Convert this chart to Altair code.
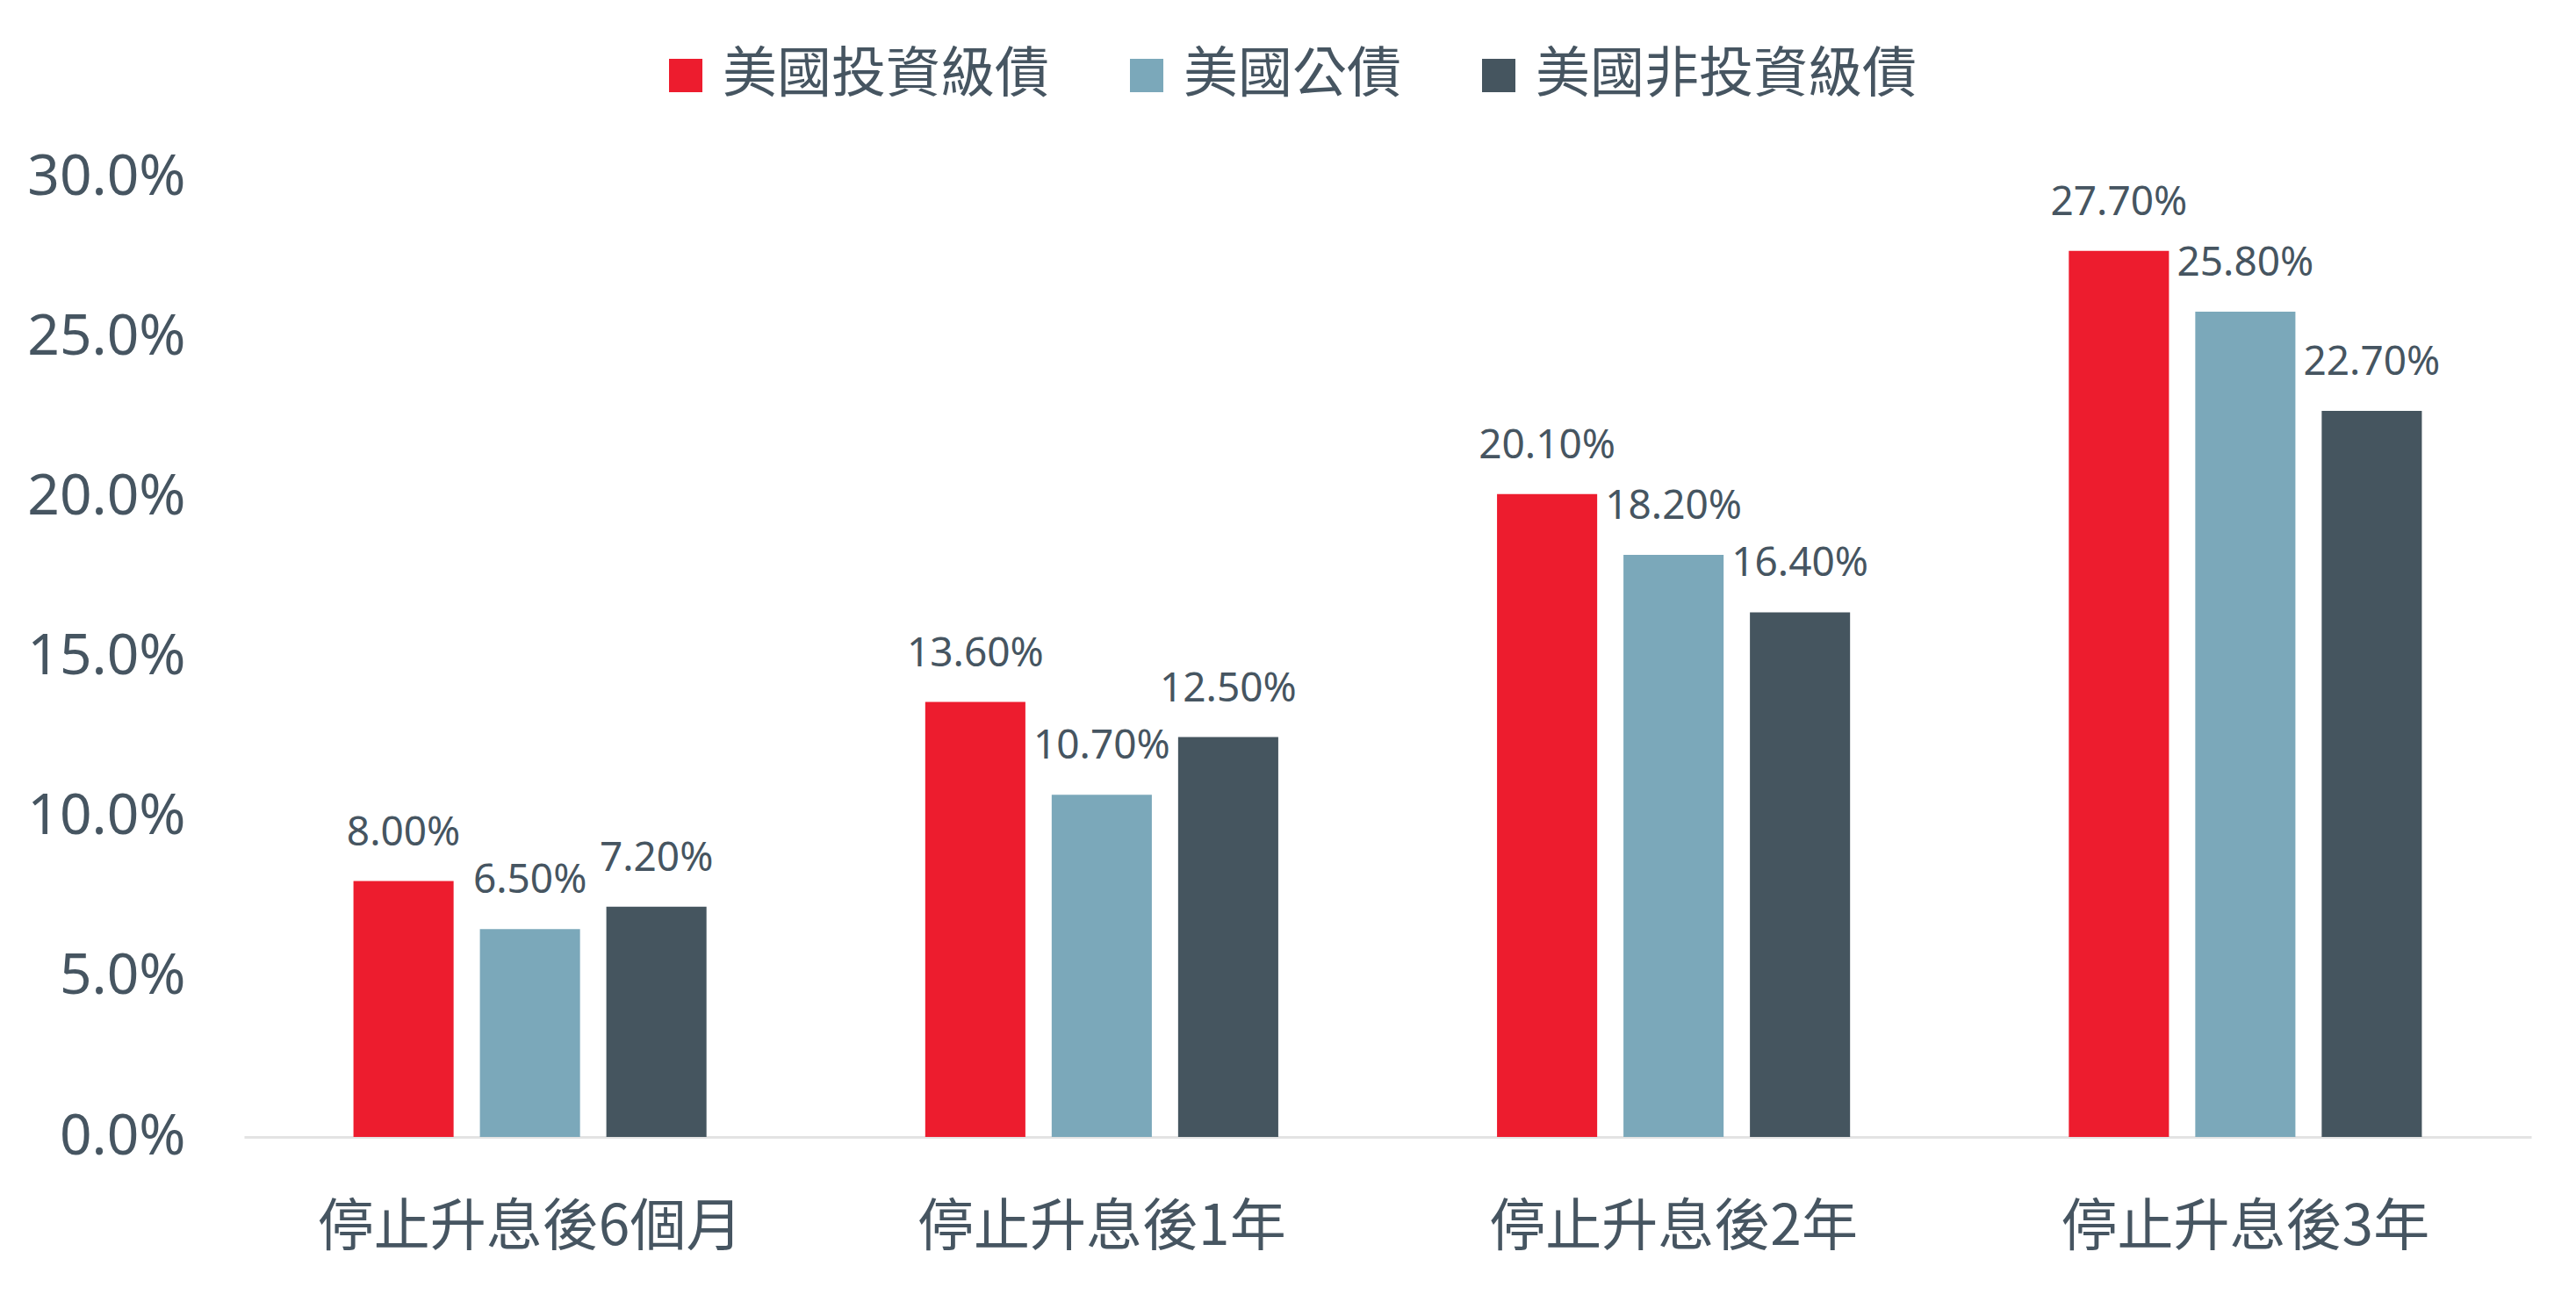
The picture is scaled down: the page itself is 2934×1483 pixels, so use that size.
import altair as alt
import pandas as pd

categories = ["停止升息後6個月", "停止升息後1年", "停止升息後2年", "停止升息後3年"]
series = ["美國投資級債", "美國公債", "美國非投資級債"]
ig_values = [8.0, 13.6, 20.1, 27.7]
gov_values = [6.5, 10.7, 18.2, 25.8]
hy_values = [7.2, 12.5, 16.4, 22.7]
colors = ["#ED1C2E", "#7BA8BA", "#45555F"]
y_ticks = [0, 0.05, 0.10, 0.15, 0.20, 0.25, 0.30]

TEXT = "#465561"

rows = []
for i, c in enumerate(categories):
    for s, vals in zip(series, [ig_values, gov_values, hy_values]):
        rows.append({"cat": c, "series": s, "value": vals[i] / 100})
df = pd.DataFrame(rows)

x_enc = alt.X(
    "cat:N",
    sort=categories,
    scale=alt.Scale(paddingInner=0, paddingOuter=0),
    axis=alt.Axis(
        title=None, labelAngle=0, ticks=False, domainColor="#E3E3E3", domainWidth=3,
        labelFont="Noto Sans CJK TC", labelFontSize=64, labelColor=TEXT,
        labelPadding=71, labelLimit=0,
    ),
)
y_enc = alt.Y(
    "value:Q",
    scale=alt.Scale(domain=[0, 0.30], nice=False),
    axis=alt.Axis(
        title=None, format=".1%", values=y_ticks, grid=False, domain=False, ticks=False,
        labelFont="Noto Sans", labelFontSize=64, labelColor=TEXT, labelPadding=67,
        labelLimit=0,
    ),
)
xoff = alt.XOffset("series:N", sort=series, scale=alt.Scale(paddingInner=0.208, paddingOuter=0.865))

bars = alt.Chart(df).mark_bar().encode(
    x=x_enc,
    y=y_enc,
    xOffset=xoff,
    color=alt.Color(
        "series:N",
        sort=series,
        scale=alt.Scale(domain=series, range=colors),
        legend=alt.Legend(
            orient="none", legendX=472, legendY=-147, direction="horizontal", columns=3,
            title=None, symbolType="square", symbolSize=1444, symbolStrokeWidth=0,
            labelFont="Noto Sans CJK TC", labelFontSize=62, labelColor=TEXT,
            columnPadding=79, labelOffset=11, padding=0, labelLimit=0,
        ),
    ),
)

text = alt.Chart(df).mark_text(
    font="Noto Sans", fontSize=46, color=TEXT, baseline="alphabetic", dy=-41
).encode(
    x=alt.X("cat:N", sort=categories),
    y=alt.Y("value:Q"),
    xOffset=alt.XOffset("series:N", sort=series),
    text=alt.Text("value:Q", format=".2%"),
)

chart = alt.layer(bars, text).properties(
    width=2605,
    height=1093,
    padding={"left": 278, "top": 202, "right": 51, "bottom": 188},
    autosize=alt.AutoSizeParams(type="none"),
    background="white",
).configure_view(stroke=None)

chart.save("out.html", embed_options={"renderer": "svg", "actions": False})
